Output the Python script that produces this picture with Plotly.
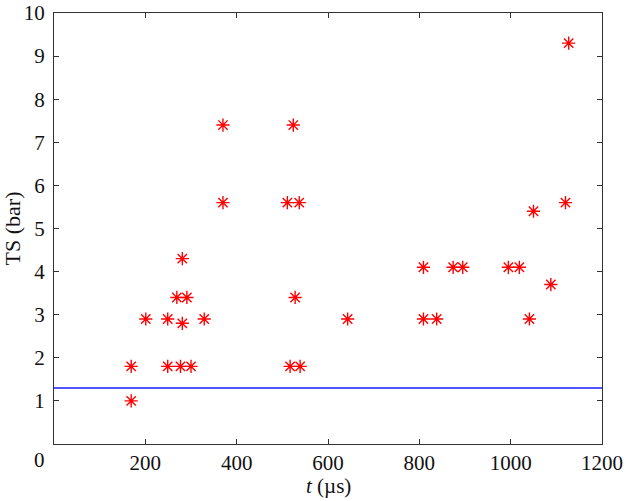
import plotly.graph_objects as go

# Data
t_us = [169, 169, 201, 249, 249, 269, 291, 281, 281, 277, 300, 329,
        528, 517, 539, 370, 370, 524, 511, 537, 1127, 1050, 1120,
        643, 809, 809, 838, 874, 895, 995, 1019, 1088, 1041]
ts_bar = [1.0, 1.8, 2.9, 2.9, 1.8, 3.4, 3.4, 4.3, 2.8, 1.8, 1.8, 2.9,
          3.4, 1.8, 1.8, 7.4, 5.6, 7.4, 5.6, 5.6, 9.3, 5.4, 5.6,
          2.9, 4.1, 2.9, 2.9, 4.1, 4.1, 4.1, 4.1, 3.7, 2.9]
threshold_x = [0, 1200]
threshold_y = [1.3, 1.3]
x_ticks = [200, 400, 600, 800, 1000, 1200]
y_ticks = [1, 2, 3, 4, 5, 6, 7, 8, 9, 10]

font_family = "Liberation Serif, Times New Roman, serif"
tick_size = 21
title_size = 21
text_color = "#111111"

fig = go.Figure()
fig.add_trace(go.Scatter(
    x=threshold_x, y=threshold_y, mode="lines",
    line=dict(color="#1a1aff", width=1.5), showlegend=False, hoverinfo="skip"))
fig.add_trace(go.Scatter(
    x=t_us, y=ts_bar, mode="markers",
    marker=dict(symbol="asterisk-open", size=11, color="#ff0000",
                line=dict(color="#ff0000", width=1.4)),
    showlegend=False))

axis_common = dict(
    showline=True, linecolor="#333333", linewidth=1.3, mirror="ticks",
    ticks="inside", ticklen=5, tickcolor="#333333", tickwidth=1.3,
    showgrid=False, zeroline=False, automargin=False,
    tickfont=dict(family=font_family, size=tick_size, color=text_color),
)

fig.update_xaxes(range=[0, 1200], tickvals=x_ticks, ticklabelstandoff=0,
                 **axis_common)
fig.update_yaxes(range=[0, 10], tickvals=y_ticks, ticklabelstandoff=4,
                 title=dict(text="TS (bar)", standoff=0,
                            font=dict(family=font_family, size=title_size + 1, color=text_color)),
                 **axis_common)

# x-axis title placed below the tick labels
fig.add_annotation(text="<i>t</i> (µs)", xref="paper", yref="paper", x=0.5, y=-0.1285,
                   xanchor="center", yanchor="bottom", showarrow=False, borderpad=0,
                   font=dict(family=font_family, size=title_size, color=text_color))
# shared origin label
fig.add_annotation(text="0", xref="paper", yref="paper", x=-0.027, y=-0.037,
                   xanchor="center", yanchor="middle", showarrow=False,
                   font=dict(family=font_family, size=tick_size, color=text_color))

fig.update_layout(
    width=626, height=501,
    margin=dict(l=54, r=24, t=13, b=57, autoexpand=False),
    paper_bgcolor="white", plot_bgcolor="white",
)

fig.write_html("out.html", config={"displayModeBar": False},
               post_script="document.body.style.margin='0';")
